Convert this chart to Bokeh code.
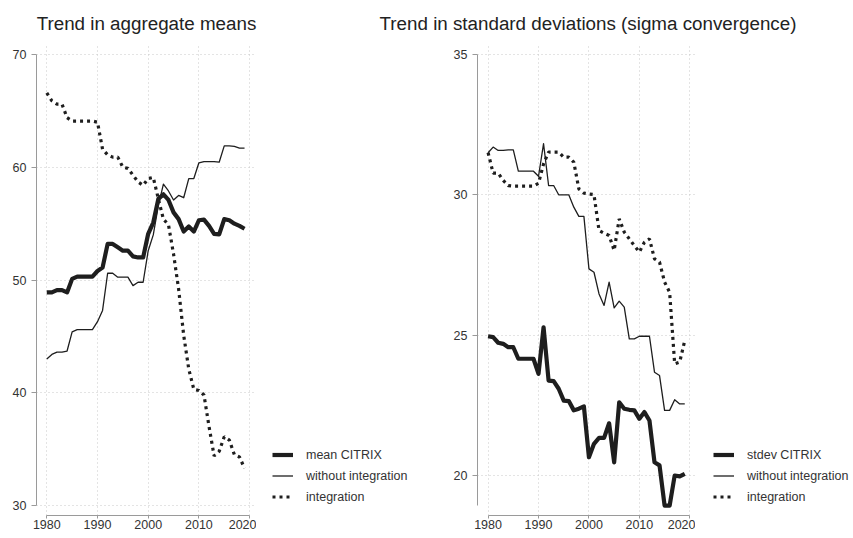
from bokeh.plotting import figure
from bokeh.models import Legend, LegendItem, Range1d, FixedTicker
from bokeh.layouts import row, column
from bokeh.core.properties import value
from bokeh.embed import file_html
from bokeh.resources import INLINE

years = list(range(1980, 2020))

mean_citrix = [48.9, 48.9, 49.1, 49.1, 48.9, 50.1, 50.3, 50.3, 50.3, 50.3,
               50.8, 51.1, 53.2, 53.2, 52.9, 52.6, 52.6, 52.1, 52.0, 52.0,
               54.1, 55.1, 57.2, 57.6, 57.1, 56.0, 55.4, 54.3, 54.75, 54.3,
               55.3, 55.35, 54.8, 54.1, 54.05, 55.4, 55.3, 55.0, 54.8, 54.55]
mean_without = [43.0, 43.4, 43.6, 43.6, 43.7, 45.4, 45.6, 45.6, 45.6, 45.6,
                46.3, 47.3, 50.6, 50.6, 50.25, 50.25, 50.25, 49.5, 49.8, 49.8,
                52.6, 54.0, 56.6, 58.5, 57.9, 57.1, 57.5, 57.3, 59.0, 59.0,
                60.4, 60.5, 60.5, 60.5, 60.45, 61.9, 61.9, 61.85, 61.7, 61.7]
mean_integration = [66.6, 65.9, 65.6, 65.6, 64.4, 64.1, 64.1, 64.1, 64.1, 64.1,
                    64.0, 61.6, 61.1, 60.9, 60.9, 60.0, 59.9, 59.3, 58.7, 58.4,
                    59.0, 59.1, 57.2, 55.4, 54.9, 52.3, 49.2, 45.1, 42.1, 40.3,
                    40.2, 39.8, 37.0, 34.4, 34.8, 36.1, 35.8, 34.5, 34.3, 33.3]

sd_citrix = [24.96, 24.93, 24.73, 24.69, 24.57, 24.57, 24.16, 24.16, 24.16, 24.16,
             23.62, 25.28, 23.38, 23.36, 23.09, 22.67, 22.65, 22.32, 22.38, 22.46,
             20.65, 21.13, 21.34, 21.34, 21.86, 20.47, 22.61, 22.38, 22.34, 22.32,
             22.02, 22.26, 21.96, 20.47, 20.36, 18.93, 18.93, 20.0, 19.97, 20.06]
sd_without = [31.5, 31.7, 31.58, 31.58, 31.6, 31.6, 30.84, 30.84, 30.84, 30.84,
              30.66, 31.82, 30.33, 30.33, 30.0, 30.0, 30.0, 29.56, 29.23, 29.23,
              27.36, 27.24, 26.47, 26.06, 26.89, 25.97, 26.21, 26.0, 24.87, 24.87,
              24.96, 24.96, 24.96, 23.68, 23.56, 22.32, 22.32, 22.7, 22.55, 22.55]
sd_integration = [31.5, 30.77, 30.77, 30.51, 30.33, 30.31, 30.31, 30.31, 30.31, 30.31,
                  30.41, 31.1, 31.52, 31.52, 31.52, 31.34, 31.34, 31.16, 30.21, 30.06,
                  30.03, 30.01, 28.73, 28.63, 28.55, 28.02, 29.14, 28.67, 28.43, 28.19,
                  27.96, 28.31, 28.43, 27.72, 27.6, 26.89, 26.53, 23.98, 24.04, 24.81]

x_ticks = [1980, 1990, 2000, 2010, 2020]
left_y_ticks = [30, 40, 50, 60, 70]
right_y_ticks = [20, 25, 30, 35]

titles = ["Trend in aggregate means",
          "Trend in standard deviations (sigma convergence)"]
left_labels = ["mean CITRIX", "without integration", "integration"]
right_labels = ["stdev CITRIX", "without integration", "integration"]

FONT = "Liberation Sans"
INK = "#1e1e1e"
GRID = "#c8c8c8"
TITLE_H, PLOT_H, BOTTOM = 43, 495, 23
STYLES = [dict(line_width=4.2, line_color=INK, line_join="round"),
          dict(line_width=1.3, line_color=INK, line_join="round"),
          dict(line_width=3.2, line_color=INK, line_dash="3 4", line_cap="butt")]


def make_panel(series, y_ticks, x_range, y_range, width, border_left):
    p = figure(width=width, height=PLOT_H, output_backend="svg",
               toolbar_location=None, x_range=Range1d(*x_range),
               y_range=Range1d(*y_range), min_border_left=border_left,
               min_border_right=0, min_border_top=0,
               min_border_bottom=BOTTOM)
    p.outline_line_color = None
    p.background_fill_color = "white"
    p.border_fill_color = "white"

    for g in (p.xgrid, p.ygrid):
        g.grid_line_color = GRID
        g.grid_line_dash = "1 3"
        g.grid_line_width = 1
    p.xgrid.ticker = FixedTicker(ticks=x_ticks)
    p.ygrid.ticker = FixedTicker(ticks=y_ticks)
    p.xaxis.ticker = FixedTicker(ticks=x_ticks)
    p.yaxis.ticker = FixedTicker(ticks=y_ticks)
    allv = [v for s in series for v in s]
    p.yaxis.bounds = (min(min(allv), min(y_ticks)), max(max(allv), max(y_ticks)))
    p.xaxis.bounds = (min(x_ticks), max(x_ticks))

    for ax in (p.xaxis, p.yaxis):
        ax.axis_line_color = "#9a9a9a"
        ax.major_tick_line_color = "#9a9a9a"
        ax.minor_tick_line_color = None
        ax.major_tick_in = 0
        ax.major_label_text_font = FONT
        ax.major_label_text_font_size = "12.5px"
        ax.major_label_text_color = "#333333"
    p.yaxis.major_tick_out = 5
    p.yaxis.major_label_standoff = 5
    p.xaxis.major_tick_out = 3
    p.xaxis.major_label_standoff = 1

    for s, st in zip(series, STYLES):
        p.line(years, s, **st)
    return p


def make_legend(series, labels, width, x_off):
    # legend strip beside each plot; its line renderers carry the same series
    # but the ranges keep them out of view, so only the legend keys show
    q = figure(width=width, height=PLOT_H, output_backend="svg",
               toolbar_location=None, x_range=Range1d(0, 1),
               y_range=Range1d(0, 1), min_border_left=0, min_border_right=0,
               min_border_top=0, min_border_bottom=BOTTOM,
               x_axis_type=None, y_axis_type=None)
    q.outline_line_color = None
    q.xgrid.visible = False
    q.ygrid.visible = False
    rs = [q.line(years, s, **st) for s, st in zip(series, STYLES)]
    legend = Legend(items=[LegendItem(label=l, renderers=[r])
                           for l, r in zip(labels, rs)],
                    location=(x_off, 8), orientation="vertical",
                    padding=0, margin=0,
                    glyph_width=21, glyph_height=21, label_height=21,
                    spacing=0, label_standoff=13,
                    label_text_font=FONT, label_text_font_size="12.5px",
                    label_text_color="#333333",
                    background_fill_alpha=0, border_line_color=None)
    q.add_layout(legend, "center")
    return q


mean_series = [mean_citrix, mean_without, mean_integration]
sd_series = [sd_citrix, sd_without, sd_integration]

# left plot region 36..256 px (5.07 px/year); right plot region 476.7..695 px
p1 = make_panel(mean_series, left_y_ticks, (1977.97, 2021.36), (29.11, 70.98),
                256, 36)
l1 = make_legend(mean_series, left_labels, 172, 16)
p2 = make_panel(sd_series, right_y_ticks, (1977.9, 2021.13), (18.575, 35.39),
                267, 49)
l2 = make_legend(sd_series, right_labels, 158, 18)

# title strip spanning both panels (titles are centred on each plot region)
W = 256 + 172 + 267 + 158
tfig = figure(width=W, height=TITLE_H, output_backend="svg",
              toolbar_location=None, x_range=Range1d(0, W),
              y_range=Range1d(0, TITLE_H), min_border=0,
              x_axis_type=None, y_axis_type=None)
tfig.outline_line_color = None
tfig.xgrid.visible = False
tfig.ygrid.visible = False
title_x = [146.0, 587.5]
title_y = [20.3, 20.3]
tfig.text(x=title_x, y=title_y, text=titles, text_align="center",
          text_baseline="alphabetic", text_font=value(FONT),
          text_font_size="18.8px", text_color="#222222")

layout = column(tfig, row(p1, l1, p2, l2))
open("out.html", "w").write(file_html(layout, INLINE))
